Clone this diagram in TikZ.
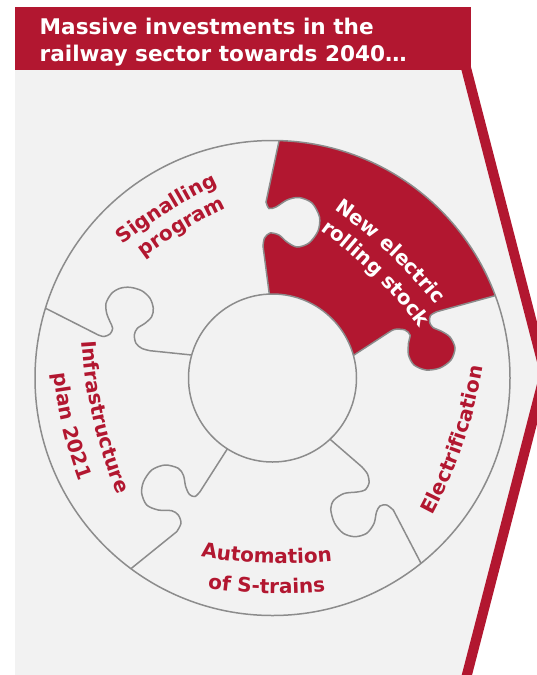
\documentclass[tikz,border=0pt]{standalone}
\usepackage{fontspec}
\setmainfont{DejaVu Sans}
\usetikzlibrary{calc,decorations.text}
\definecolor{pzred}{RGB}{178,23,48}
\definecolor{pzbg}{RGB}{242,242,242}
\definecolor{pzline}{RGB}{140,140,140}
\newcommand{\lblfont}{\fontsize{20}{24}\selectfont\bfseries}
\newcommand{\ttlfont}{\fontsize{21.6}{26}\selectfont\bfseries}
\def\Rt{480}
% #1 centre angle (y-down degrees), #2 baseline distance from C, #3 half span, #4 sign, #5 colour, #6 text
\newcommand{\arctext}[6]{%
  \path[decorate, decoration={text along path, text align=center, text={|\lblfont\color{#5}|#6}}]
   ($(C)+(#1:{#2-\Rt})+({#1-(#4)*#3}:\Rt)$) arc[start angle={#1-(#4)*#3}, end angle={#1+(#4)*#3}, radius=\Rt];}
\begin{document}
\begin{tikzpicture}[x=1pt,y=-1pt, outl/.style={draw=pzline, line width=1.5pt}]
\useasboundingbox (0,0) rectangle (536,675);
\coordinate (C) at (272.5,378);
% background chevron
\fill[pzbg] (15,70) -- (464,70) -- (545,373) -- (463,690) -- (15,690) -- cycle;
\draw[pzred, line width=10pt, line join=miter] (464,60) -- (545,373) -- (463,690);
% header
\fill[pzred] (15,7) rectangle (471,70);
\node[anchor=base west, inner sep=0pt, text=white, font=\ttlfont] (t1) at (39.5,34.2) {Massive investments in the};
\node[anchor=base west, inner sep=0pt, text=white, font=\ttlfont] (t2) at (39.5,61.5) {railway sector towards 2040…};
% red piece
\fill[pzred] (269.3,294.1) -- plot[smooth] coordinates {(263,246) (264.5,238) (270,233) (279,235) (287,242) (297,247) (309,243) (318,231) (319.5,217) (312,203) (299,197.5) (287,200) (276,207) (269,208.5) (266,202)} -- (279.1,140.6) arc[start angle=-88.4, end angle=-20.3, radius=237.5] -- plot[smooth] coordinates {(436.7,311.7) (430.5,315.5) (429.5,322) (433,327.5) (441,331) (450,337) (455,348) (451,360) (440,368) (426,370) (414,365) (408.5,355) (408.5,343) (410,335) (405,330) (395,329.3) (388.3,332.7)} -- (353.4,355.4) arc[start angle=-15.6, end angle=-92.2, radius=84] -- cycle;
% circles
\draw[outl] (C) circle[radius=237.5];
\draw[outl] (C) circle[radius=84];
% boundaries
\draw[outl] (269.3,294.1) -- plot[smooth] coordinates {(263,246) (264.5,238) (270,233) (279,235) (287,242) (297,247) (309,243) (318,231) (319.5,217) (312,203) (299,197.5) (287,200) (276,207) (269,208.5) (266,202)} -- (279.1,140.6);
\draw[outl] (495.3,295.6) -- plot[smooth] coordinates {(436.7,311.7) (430.5,315.5) (429.5,322) (433,327.5) (441,331) (450,337) (455,348) (451,360) (440,368) (426,370) (414,365) (408.5,355) (408.5,343) (410,335) (405,330) (395,329.3) (388.3,332.7)} -- (353.4,355.4);
\draw[outl] (330,439.2) -- plot[smooth] coordinates {(361.7,466.7) (367.5,474) (369,483) (365,490) (357,492) (344,493.5) (334,500) (330.7,509) (334.5,523) (343.3,533.3) (355,536.7) (366.7,533.3) (374,523.5) (376.5,512) (380,506) (386.7,505) (393.3,510)} -- (421,563.3);
\draw[outl] (227.4,448.8) -- plot[smooth] coordinates {(200,491.7) (195,496.5) (189.5,494.5) (185.7,486.7) (183.5,475.5) (178.3,468.3) (165,465) (151.7,470) (143.5,481.7) (141.7,493.3) (146.7,505) (158.3,510) (171.7,510.7) (178.3,515) (181,523.3) (176.7,531.7)} -- (130.9,568.7);
\draw[outl] (45.5,308.2) -- plot[smooth] coordinates {(98.3,335) (104,336.5) (110,334) (112.7,328.3) (110,321.7) (106.7,313.3) (106,303.3) (111.7,293.3) (120,288.3) (130,287.3) (141.7,290.7) (150,298.3) (153.3,308.3) (151.7,316.7) (145,323.3) (137.3,328.3) (134.3,335) (136,343.3) (141.7,348.3) (150,350.7)} -- (191.7,355);
% labels
\arctext{-122}{196}{25}{1}{pzred}{Signalling}
\arctext{-121}{172}{25}{1}{pzred}{program}
\arctext{-47}{170}{25}{1}{white}{New electric}
\arctext{-45.5}{144}{25}{1}{white}{rolling stock}
\arctext{18.85}{202}{25}{-1}{pzred}{Electrification}
\arctext{167}{184}{25}{-1}{pzred}{Infrastructure}
\arctext{166.6}{215.5}{25}{-1}{pzred}{plan 2021}
\arctext{91.9}{185.5}{25}{-1}{pzred}{Automation}
\arctext{91.6}{215.5}{25}{-1}{pzred}{of S-trains}
\end{tikzpicture}
\end{document}
